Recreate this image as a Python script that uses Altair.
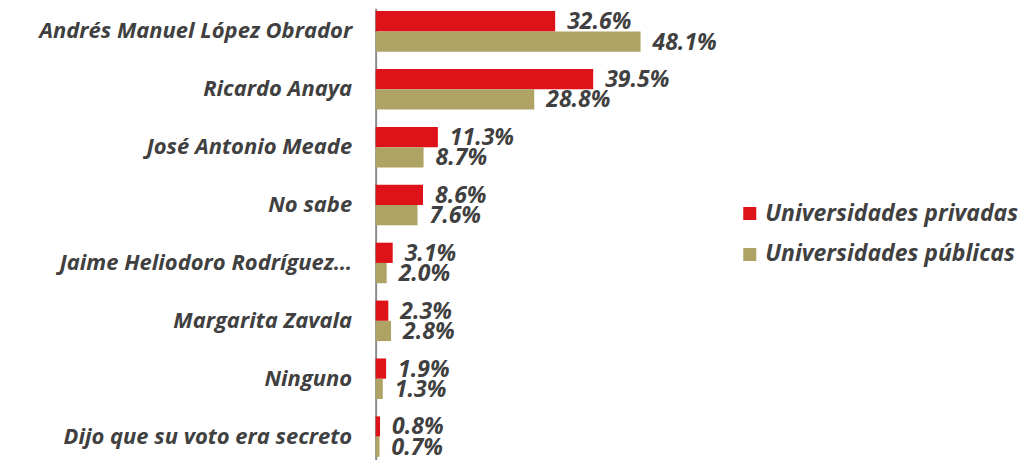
import altair as alt
import pandas as pd

categories = [
    "Andrés Manuel López Obrador",
    "Ricardo Anaya",
    "José Antonio Meade",
    "No sabe",
    "Jaime Heliodoro Rodríguez…",
    "Margarita Zavala",
    "Ninguno",
    "Dijo que su voto era secreto",
]
privadas = [32.6, 39.5, 11.3, 8.6, 3.1, 2.3, 1.9, 0.8]
publicas = [48.1, 28.8, 8.7, 7.6, 2.0, 2.8, 1.3, 0.7]
series = ["Universidades privadas", "Universidades públicas"]
colors = ["#DE1219", "#AFA265"]

rows = []
for c, a, b in zip(categories, privadas, publicas):
    rows.append({"cat": c, "serie": series[0], "val": a, "lab": f"{a:.1f}%"})
    rows.append({"cat": c, "serie": series[1], "val": b, "lab": f"{b:.1f}%"})
df = pd.DataFrame(rows)

FONT = "Open Sans"
TXT = "#404040"

y = alt.Y("cat:N", sort=categories, title=None,
          scale=alt.Scale(paddingInner=0.3, paddingOuter=0.05),
          axis=alt.Axis(labelFont=FONT, labelFontSize=22, labelFontStyle="italic",
                        labelFontWeight="bold", labelColor=TXT, labelPadding=24,
                        labelLimit=400, ticks=False, domainColor="#8c8c8c",
                        domainWidth=2, minExtent=368, maxExtent=368, grid=False))
x = alt.X("val:Q", title=None, axis=None, scale=alt.Scale(domain=[0, 65.3]))
yoff = alt.YOffset("serie:N", sort=series, scale=alt.Scale(domain=series))

bars = alt.Chart(df).mark_bar().encode(
    y=y, x=x, yOffset=yoff,
    color=alt.Color("serie:N", scale=alt.Scale(domain=series, range=colors),
                    legend=alt.Legend(title=None, orient="none", legendX=363, legendY=194,
                                      symbolType="square", symbolSize=170,
                                      symbolStrokeWidth=0, labelFont=FONT,
                                      labelFontSize=23, labelFontStyle="italic",
                                      labelFontWeight="bold", labelColor=TXT,
                                      labelLimit=400, rowPadding=17, labelOffset=4)),
)

labels = alt.Chart(df).mark_text(align="left", baseline="middle", dx=12, dy=1,
                                 font=FONT, fontSize=23, fontStyle="italic",
                                 fontWeight="bold", color=TXT).encode(
    y=y, x=x, yOffset=yoff, text="lab:N"
)

chart = (bars + labels).properties(width=360, height=452, padding=0).configure_view(stroke=None)
chart.save("out.html", embed_options={"renderer": "svg", "actions": False})
